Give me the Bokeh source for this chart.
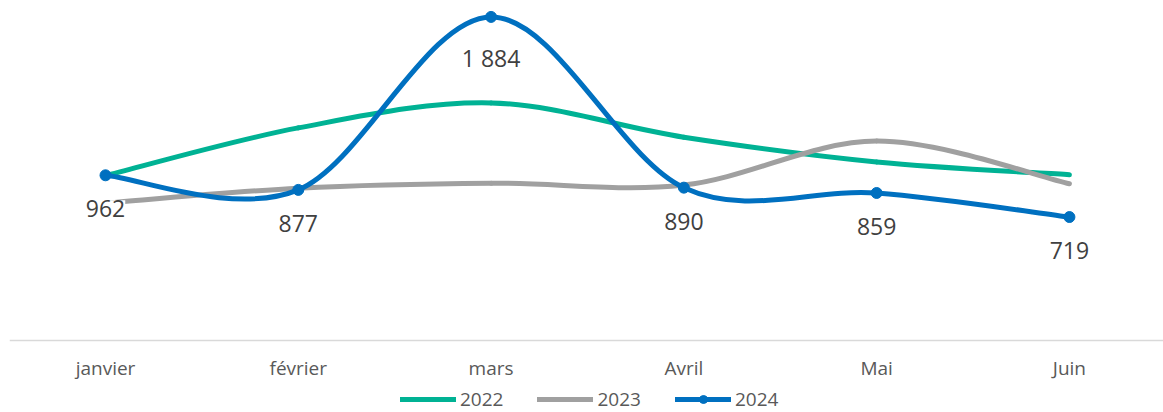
from bokeh.plotting import figure
from bokeh.models import (Range1d, FixedTicker, Legend, LegendItem, ColumnDataSource, LabelSet)
from bokeh.core.properties import value
from bokeh.embed import file_html
from bokeh.resources import INLINE

months = ["janvier", "février", "mars", "Avril", "Mai", "Juin"]
years = ["2022", "2023", "2024"]
v2022 = [960, 1238, 1383, 1184, 1040, 965]
v2023 = [800, 887, 916, 905, 1161, 913]
v2024 = [962, 877, 1884, 890, 859, 719]
colors = {"2022": "#00B294", "2023": "#A0A0A0", "2024": "#0070C0"}

FONT = "Open Sans"

p = figure(frame_width=1154, frame_height=404, output_backend="svg", toolbar_location=None,
           x_range=Range1d(-0.498, 5.488), y_range=Range1d(-419, 1933),
           min_border_left=9, min_border_right=0, min_border_top=8, min_border_bottom=0)
p.outline_line_color = None
p.grid.grid_line_color = None
p.yaxis.visible = False
p.background_fill_color = "white"
p.border_fill_color = "white"

xa = p.xaxis[0]
xa.fixed_location = 0
xa.ticker = FixedTicker(ticks=list(range(len(months))))
xa.major_label_overrides = {i: m for i, m in enumerate(months)}
xa.axis_line_color = "#D9D9D9"
xa.axis_line_width = 1.5
xa.major_tick_line_color = None
xa.minor_tick_line_color = None
xa.major_label_standoff = 8
xa.major_label_text_font = FONT
xa.major_label_text_font_size = "19px"
xa.major_label_text_color = "#595959"


def segments(vals):
    n = len(vals)
    xs = list(range(n))
    d = dict(x0=[], y0=[], x1=[], y1=[], cx0=[], cy0=[], cx1=[], cy1=[])
    for i in range(n - 1):
        a = i - 1 if i > 0 else i
        b = i + 2 if i + 2 < n else i + 1
        d["x0"].append(xs[i]); d["y0"].append(vals[i])
        d["x1"].append(xs[i + 1]); d["y1"].append(vals[i + 1])
        d["cx0"].append(xs[i] + (xs[i + 1] - xs[a]) / 6)
        d["cy0"].append(vals[i] + (vals[i + 1] - vals[a]) / 6)
        d["cx1"].append(xs[i + 1] - (xs[b] - xs[i]) / 6)
        d["cy1"].append(vals[i + 1] - (vals[b] - vals[i]) / 6)
    return ColumnDataSource(d)


renderers = {}
for yr, vals in zip(years, [v2022, v2023, v2024]):
    r = p.bezier(x0="x0", y0="y0", x1="x1", y1="y1", cx0="cx0", cy0="cy0", cx1="cx1", cy1="cy1",
                 source=segments(vals), line_color=colors[yr], line_width=5, line_cap="round")
    renderers[yr] = [r]

src24 = ColumnDataSource(dict(x=list(range(len(months))), y=v2024,
                              label=[f"{v:,}".replace(",", " ") for v in v2024]))
sc = p.scatter("x", "y", source=src24, size=11, fill_color=colors["2024"], line_color=colors["2024"])
renderers["2024"].append(sc)

labels = LabelSet(x="x", y="y", text="label", source=src24, y_offset=-25,
                  text_align="center", text_baseline="top", text_font=value(FONT),
                  text_font_size=value("23px"), text_color="#404040",
                  background_fill_color="white", background_fill_alpha=1.0)
p.add_layout(labels)

legend = Legend(items=[LegendItem(label=yr, renderers=renderers[yr]) for yr in years],
                orientation="horizontal", location=(391, 0), glyph_width=56, glyph_height=20,
                label_standoff=4, spacing=34, padding=0, margin=0, border_line_color=None,
                label_text_font=FONT, label_text_font_size="19px", label_text_color="#595959",
                background_fill_alpha=0)
p.add_layout(legend)

open("out.html", "w").write(file_html(p, INLINE))
